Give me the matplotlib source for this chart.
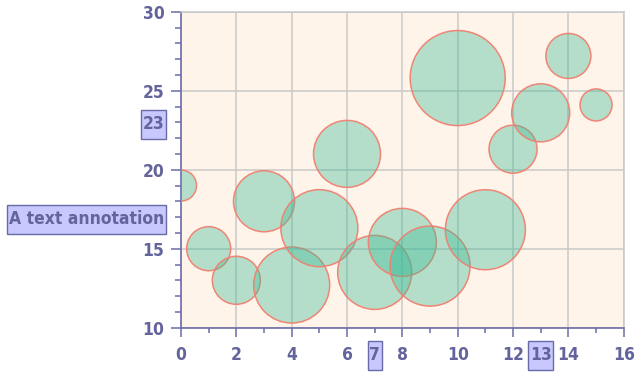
import matplotlib
matplotlib.use("Agg")
import matplotlib.pyplot as plt
from matplotlib.path import Path
from matplotlib.ticker import MultipleLocator

# Bubble series: x, y and bubble radius (in pixels at 100 dpi)
x_vals = [0, 1, 2, 3, 4, 5, 6, 7, 8, 9, 10, 11, 12, 13, 14, 15]
y_vals = [19.0, 15.0, 13.0, 18.0, 12.7, 16.3, 21.0, 13.5, 15.4, 13.9,
          25.8, 16.2, 21.3, 23.6, 27.2, 24.1]
radius = [15.5, 22, 24, 30.5, 38, 38.5, 33.5, 37, 34, 40, 47.5, 40, 24, 29,
          22.5, 16]

# Axis annotations
x_marks = [7, 13]
y_marks = [23]
note_text = "A text annotation"
note_y = 17

DPI = 100
LABEL = "#64649c"
AXIS = "#6c6caa"
BOX_FACE = "#c8c8ff"
BOX_EDGE = "#6a6aa8"
GRID = "#c9c9c9"
FSIZE = 12.5

plt.rcParams["font.family"] = ["DejaVu Sans"]
plt.rcParams["font.stretch"] = "condensed"

fig = plt.figure(figsize=(6.38, 3.74), dpi=DPI)
ax = fig.add_axes([0.2837, 0.1238, 0.6939, 0.8449])
ax.set_facecolor("#fff4ea")

ax.set_xlim(0, 16)
ax.set_ylim(10, 30)
ax.xaxis.set_major_locator(MultipleLocator(2))
ax.xaxis.set_minor_locator(MultipleLocator(1))
ax.yaxis.set_major_locator(MultipleLocator(5))
ax.yaxis.set_minor_locator(MultipleLocator(1))

ax.grid(True, which="major", color=GRID, linewidth=1.1, zorder=0)
ax.set_axisbelow(True)

sizes = [(2 * r * 72 / DPI) ** 2 for r in radius]
ax.scatter(x_vals, y_vals, s=sizes, facecolor=(0.22, 0.73, 0.58, 0.37),
           edgecolor=(0.94, 0.5, 0.44, 0.95), linewidth=1.1, zorder=3)

for side in ("top", "right"):
    ax.spines[side].set_color(GRID)
    ax.spines[side].set_linewidth(1.1)
for side in ("left", "bottom"):
    ax.spines[side].set_color(AXIS)
    ax.spines[side].set_linewidth(1.2)

YLEN, XLEN = 7.5, 6.5
YPAD, XPAD = 4.4, 6.8
tick_font = dict(fontsize=FSIZE, fontweight="bold", color=LABEL,
                 fontstretch="condensed")
ax.tick_params(axis="y", which="major", length=YLEN, width=1.1, color=AXIS,
               pad=YPAD, labelsize=FSIZE, labelcolor=LABEL)
ax.tick_params(axis="y", which="minor", length=4.3, width=1.1, color=AXIS)
ax.tick_params(axis="x", which="major", length=XLEN, width=1.1, color=AXIS,
               pad=XPAD, labelsize=FSIZE, labelcolor=LABEL)
ax.tick_params(axis="x", which="minor", length=3.6, width=1.1, color=AXIS)
for lab in ax.get_xticklabels() + ax.get_yticklabels():
    lab.set_fontweight("bold")
    lab.set_fontstretch("condensed")


def tall_box(x0, y0, width, height, mutation_size):
    """Rectangle hugging the text horizontally, with a fixed overall height."""
    padx = 0.1 * mutation_size
    target = 1.68 * mutation_size
    pady = max(0.0, (target - height) / 2)
    xa, xb = x0 - padx, x0 + width + padx
    ya, yb = y0 - pady, y0 + height + pady
    return Path([(xa, ya), (xb, ya), (xb, yb), (xa, yb), (xa, ya)],
                closed=True)


box = dict(boxstyle=tall_box, facecolor=BOX_FACE, edgecolor=BOX_EDGE,
           linewidth=1.0)

for xm in x_marks:
    ax.annotate(str(xm), xy=(xm, 0), xycoords=("data", "axes fraction"),
                xytext=(0, -(XLEN + XPAD)), textcoords="offset points",
                ha="center", va="top", bbox=box, zorder=5,
                annotation_clip=False, **tick_font)
for ym in y_marks:
    ax.annotate(str(ym), xy=(0, ym), xycoords=("axes fraction", "data"),
                xytext=(-(YLEN + YPAD), 0), textcoords="offset points",
                ha="right", va="center_baseline", bbox=box, zorder=5,
                annotation_clip=False, **tick_font)

ax.annotate(note_text, xy=(0, note_y), xycoords=("axes fraction", "data"),
            xytext=(-(YLEN + YPAD), 0), textcoords="offset points", ha="right",
            va="center_baseline", bbox=box, zorder=5, annotation_clip=False,
            **tick_font)

fig.savefig("out.png", dpi=DPI, facecolor="white")
